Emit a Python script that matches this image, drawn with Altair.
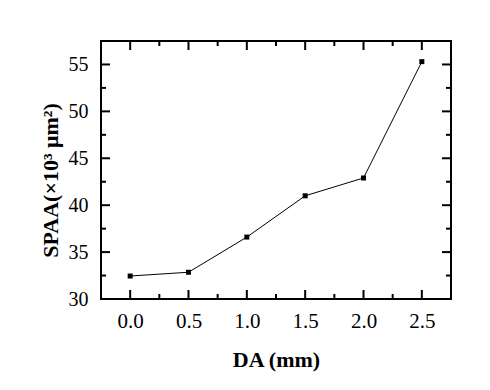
import altair as alt
import pandas as pd

# data
da = [0.0, 0.5, 1.0, 1.5, 2.0, 2.5]
spaa = [32.45, 32.85, 36.6, 41.0, 42.9, 55.3]

x_domain = [-0.25, 2.75]
y_domain = [30, 57.5]
x_major = [0.0, 0.5, 1.0, 1.5, 2.0, 2.5]
x_minor = [0.25, 0.75, 1.25, 1.75, 2.25]
y_major = [35, 40, 45, 50, 55]
y_minor = [32.5, 37.5, 42.5, 47.5, 52.5]
y_labels = [30, 35, 40, 45, 50, 55]

W, H = 350, 258
MAJ, MIN = 9, 5
SERIF = "Liberation Serif"

df = pd.DataFrame({"da": da, "spaa": spaa})
xs = alt.Scale(domain=x_domain, nice=False, zero=False)
ys = alt.Scale(domain=y_domain, nice=False, zero=False)

x_axis = alt.Axis(values=x_major, format=".1f", domain=False, ticks=False, grid=False,
                  labelFont=SERIF, labelFontSize=21, labelColor="black", labelPadding=11,
                  title="DA (mm)", titleFont=SERIF, titleFontSize=22, titleFontWeight="bold",
                  titleColor="black", titleY=60, titleBaseline="middle")
y_axis = alt.Axis(values=y_labels, domain=False, ticks=False, grid=False,
                  labelFont=SERIF, labelFontSize=20, labelColor="black", labelPadding=13,
                  title="SPAA(×10³ μm²)", titleFont=SERIF, titleFontSize=22,
                  titleFontWeight="bold", titleColor="black", titleAngle=-90,
                  titleX=-51, titleY=139, titleAlign="center", titleBaseline="middle")

line = alt.Chart(df).mark_line(color="black", strokeWidth=1).encode(
    x=alt.X("da:Q", scale=xs, axis=x_axis),
    y=alt.Y("spaa:Q", scale=ys, axis=y_axis),
)
pts = alt.Chart(df).mark_square(size=25, color="black", opacity=1).encode(
    x=alt.X("da:Q", scale=xs, axis=x_axis),
    y=alt.Y("spaa:Q", scale=ys, axis=y_axis),
)

def xticks(vals, length):
    d = pd.DataFrame({"v": vals})
    bottom = alt.Chart(d).mark_rule(color="black", strokeWidth=2).encode(
        x=alt.X("v:Q", scale=xs, axis=x_axis), y=alt.value(H), y2=alt.value(H - length))
    top = alt.Chart(d).mark_rule(color="black", strokeWidth=2).encode(
        x=alt.X("v:Q", scale=xs, axis=x_axis), y=alt.value(0), y2=alt.value(length))
    return [bottom, top]

def yticks(vals, length):
    d = pd.DataFrame({"v": vals})
    left = alt.Chart(d).mark_rule(color="black", strokeWidth=2).encode(
        y=alt.Y("v:Q", scale=ys, axis=y_axis), x=alt.value(0), x2=alt.value(length))
    right = alt.Chart(d).mark_rule(color="black", strokeWidth=2).encode(
        y=alt.Y("v:Q", scale=ys, axis=y_axis), x=alt.value(W), x2=alt.value(W - length))
    return [left, right]

layers = [line, pts] + xticks(x_major, MAJ) + xticks(x_minor, MIN) + yticks(y_major, MAJ) + yticks(y_minor, MIN)

chart = alt.layer(*layers).properties(
    width=W, height=H,
    autosize=alt.AutoSizeParams(type="none"),
    padding={"left": 93, "top": 33, "right": 31, "bottom": 80},
).configure_view(stroke="black", strokeWidth=2)

chart.save("out.html", embed_options={"renderer": "svg", "actions": False})
